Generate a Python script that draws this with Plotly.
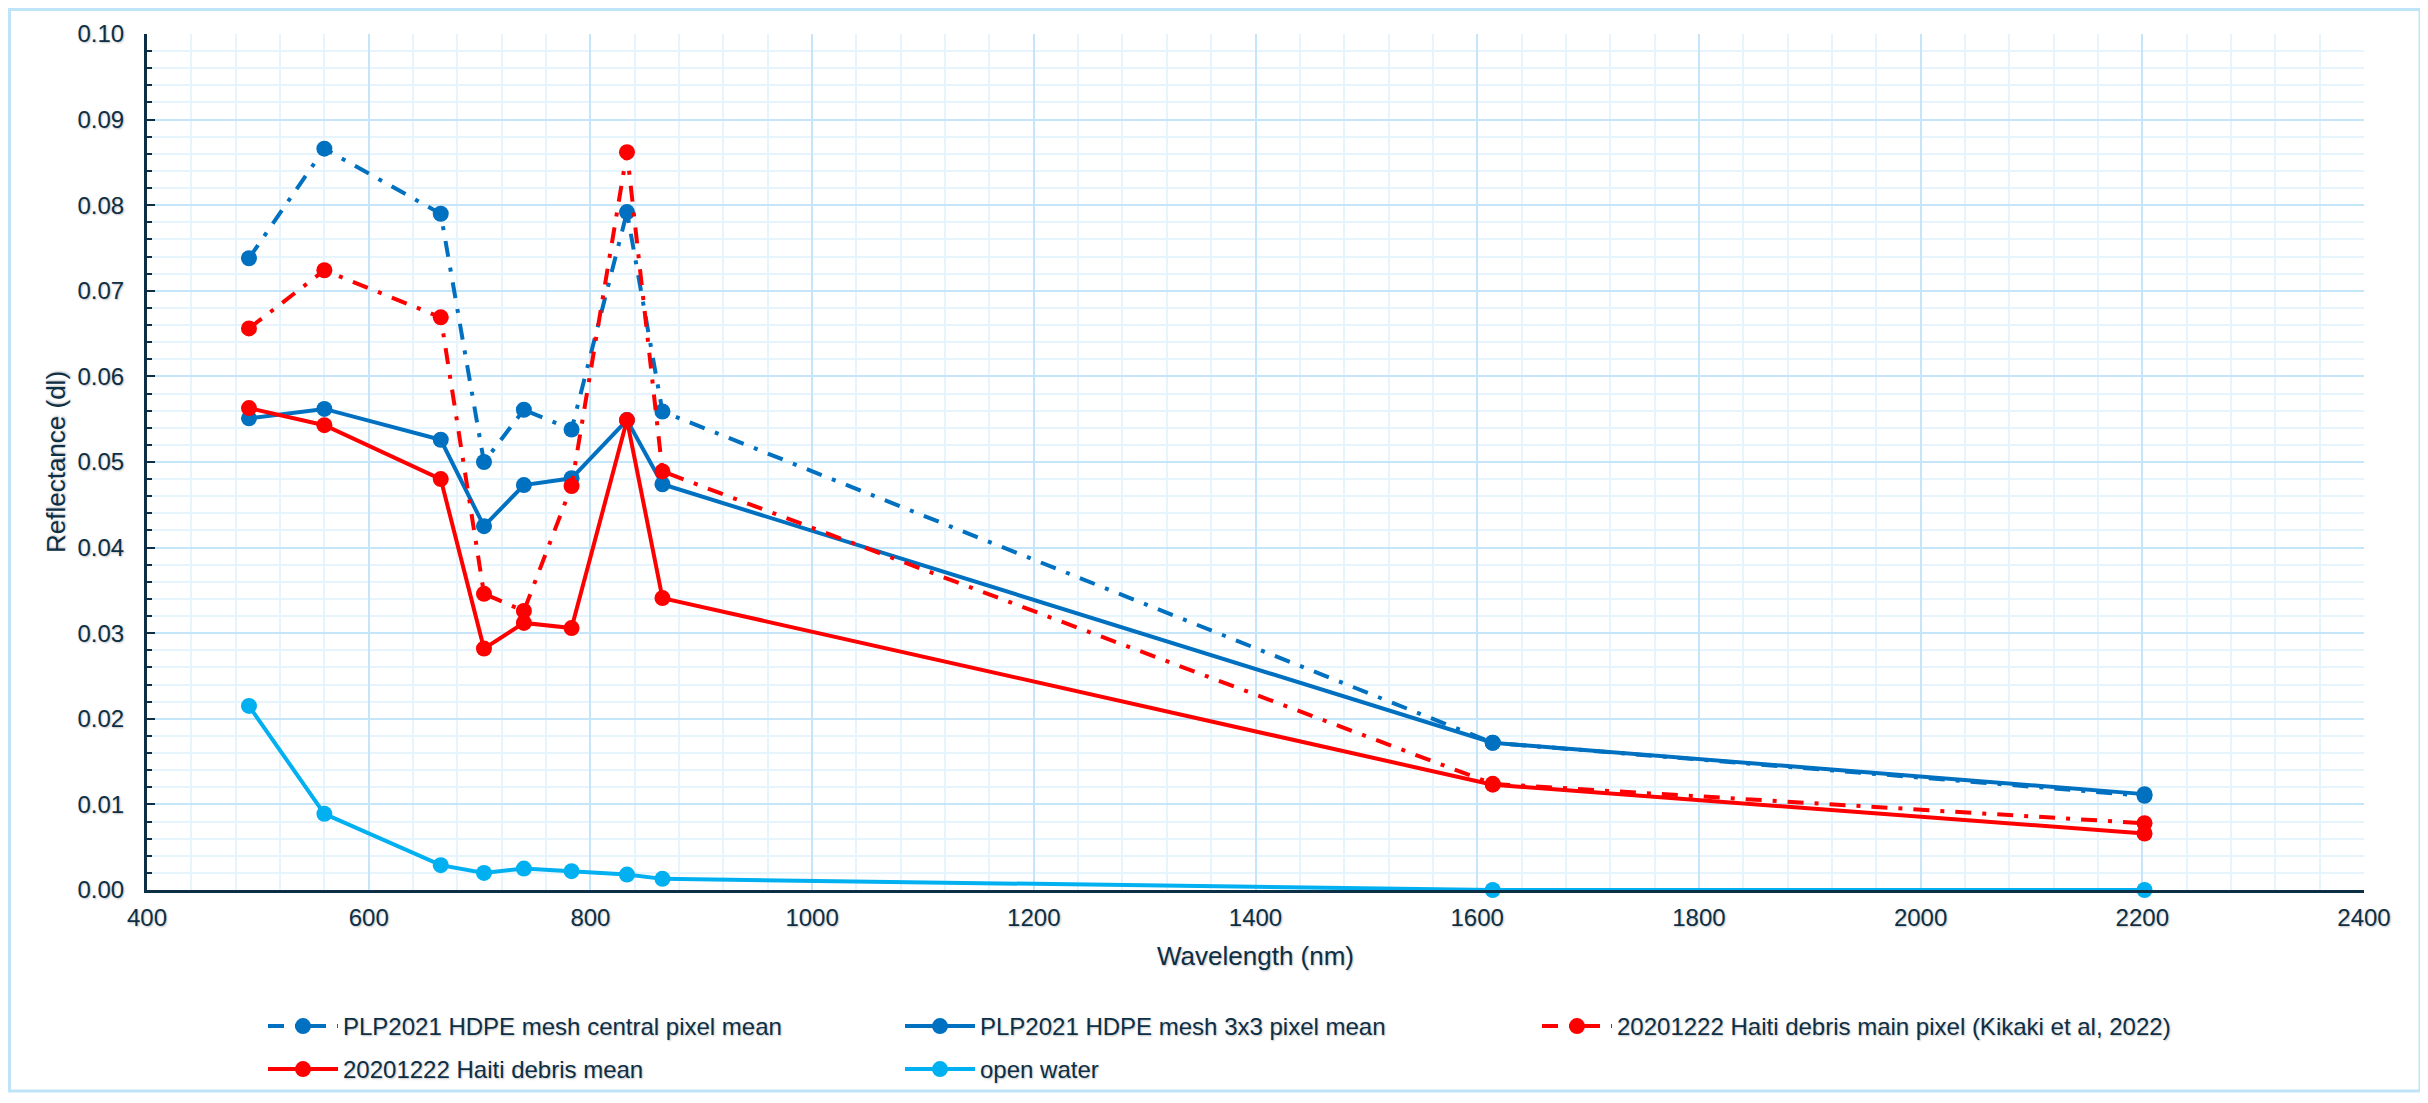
import plotly.graph_objects as go

wavelength = [492, 560, 665, 704, 740, 783, 833, 865, 1614, 2202]

hdpe_central = [0.0738, 0.0866, 0.0790, 0.0500, 0.0561, 0.0538, 0.0792, 0.0559, 0.0172, 0.0110]
hdpe_3x3 = [0.0551, 0.0562, 0.0526, 0.0425, 0.0473, 0.0481, 0.0549, 0.0474, 0.0172, 0.0112]
haiti_main = [0.0656, 0.0724, 0.0669, 0.0346, 0.0326, 0.0472, 0.0862, 0.0489, 0.0124, 0.0078]
haiti_mean = [0.0563, 0.0543, 0.0480, 0.0282, 0.0312, 0.0306, 0.0549, 0.0341, 0.0123, 0.0066]
open_water = [0.0215, 0.0089, 0.0029, 0.0020, 0.0025, 0.0022, 0.0018, 0.0013, 0.0000, 0.0000]

names = [
    "PLP2021 HDPE mesh central pixel mean",
    "PLP2021 HDPE mesh 3x3 pixel mean",
    "20201222 Haiti debris main pixel (Kikaki et al, 2022)",
    "20201222 Haiti debris mean",
    "open water",
]

BLUE = "#0070C0"
RED = "#FF0000"
LBLUE = "#00B0F0"
NAVY = "#0d2f45"
GRID_MAJ = "#c4e6f8"
GRID_MIN = "#e6f5fd"
FONT = "Liberation Sans, Arial, sans-serif"
SHADOW = "1px 1px 2px rgba(0,0,0,0.25)"
DASHDOT = "16px,11px,4px,11px"

# page body has an 8px default margin: figure coordinates are page - 8
W, H = 2420, 1095
ML, MR, MT, MB = 139, 64, 26, 213
PW = W - ML - MR
PH = H - MT - MB

series = [
    (hdpe_central, BLUE, DASHDOT, "legend"),
    (hdpe_3x3, BLUE, "solid", "legend"),
    (haiti_main, RED, DASHDOT, "legend"),
    (haiti_mean, RED, "solid", "legend2"),
    (open_water, LBLUE, "solid", "legend2"),
]

fig = go.Figure()
for (vals, col, dash, lg), nm in zip(series, names):
    fig.add_trace(go.Scatter(
        x=wavelength, y=vals, name=nm, mode="lines+markers",
        line=dict(color=col, width=4, dash=dash),
        marker=dict(color=col, size=16),
        cliponaxis=False, legend=lg,
    ))

def px_x(p):
    return (p - ML) / PW

def px_y(p):
    return (H - MB - p) / PH

fig.add_shape(type="rect", xref="paper", yref="paper",
              x0=px_x(1.5), x1=px_x(2412), y0=px_y(1083), y1=px_y(1.5),
              line=dict(color="#bfe4f8", width=3), layer="below")

tickfont = dict(family=FONT, size=24, color=NAVY, shadow=SHADOW)
titlefont = dict(family=FONT, size=26, color=NAVY, shadow=SHADOW)

fig.update_xaxes(
    range=[400, 2400], dtick=200, tick0=400,
    showgrid=True, gridcolor=GRID_MAJ, gridwidth=2,
    minor=dict(dtick=40, showgrid=True, gridcolor=GRID_MIN, gridwidth=2),
    showline=True, linecolor=NAVY, linewidth=3, ticks="", zeroline=False,
    tickfont=tickfont, ticklabelstandoff=4,
    title=dict(text="Wavelength (nm)", font=titlefont, standoff=18),
)
fig.update_yaxes(
    range=[0, 0.1], dtick=0.01, tick0=0, tickformat=".2f",
    showgrid=True, gridcolor=GRID_MAJ, gridwidth=2,
    minor=dict(dtick=0.002, showgrid=True, gridcolor=GRID_MIN, gridwidth=2,
               ticks="inside", ticklen=5, tickwidth=2, tickcolor=NAVY),
    ticks="inside", ticklen=8, tickwidth=2, tickcolor=NAVY,
    showline=True, linecolor=NAVY, linewidth=3, zeroline=False,
    tickfont=tickfont, ticklabelstandoff=15,
    title=dict(text="Reflectance (dl)", font=titlefont, standoff=5),
)

legfont = dict(family=FONT, size=24, color=NAVY, shadow=SHADOW)
common_leg = dict(orientation="h", xanchor="left", yanchor="top",
                  entrywidth=552, entrywidthmode="pixels", font=legfont,
                  bgcolor="rgba(0,0,0,0)", itemwidth=70, traceorder="normal")
fig.update_layout(
    width=W, height=H,
    margin=dict(l=ML, r=MR, t=MT, b=MB, autoexpand=False),
    plot_bgcolor="white", paper_bgcolor="white",
    font=dict(family=FONT, color=NAVY),
    legend=dict(x=px_x(255), y=px_y(996), **common_leg),
    legend2=dict(x=px_x(255), y=px_y(1039), **common_leg),
    showlegend=True,
)

fig.write_html("out.html")
